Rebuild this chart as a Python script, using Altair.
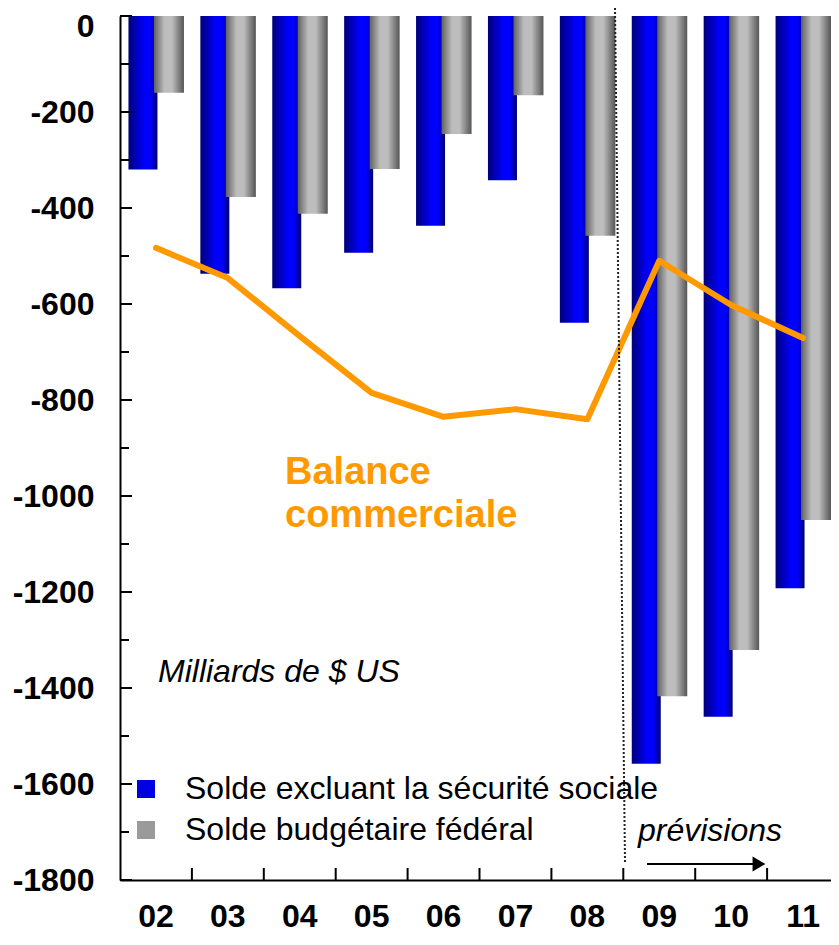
import altair as alt
import pandas as pd

# ---- data ----
years = ["02", "03", "04", "05", "06", "07", "08", "09", "10", "11"]
solde_hors_secu = [-320, -537, -567, -493, -437, -342, -639, -1558, -1460, -1192]
solde_federal = [-160, -377, -412, -319, -246, -165, -458, -1417, -1321, -1050]
balance_commerciale = [-483, -546, -667, -785, -835, -819, -840, -510, -602, -671]
series_labels = ["Solde excluant la sécurité sociale", "Solde budgétaire fédéral"]
y_major_ticks = [0, -200, -400, -600, -800, -1000, -1200, -1400, -1600, -1800]
y_minor_ticks = [-100, -300, -500, -700, -900, -1100, -1300, -1500, -1700]
txt_balance = ["Balance", "commerciale"]
txt_unit = "Milliards de $ US"
txt_prev = "prévisions"

FONT = "Liberation Sans"
ORANGE = "#FF9900"

df_blue = pd.DataFrame({"year": years, "v": solde_hors_secu, "serie": series_labels[0]})
df_grey = pd.DataFrame({"year": years, "v": solde_federal, "serie": series_labels[1]})
df_both = pd.concat([df_blue, df_grey])
df_line = pd.DataFrame({"year": years, "v": balance_commerciale})
one = pd.DataFrame({"k": [0]})

xscale = alt.Scale(domain=years, range=[0, 719], paddingInner=0, paddingOuter=0)
yscale = alt.Scale(domain=[-1800, 0], nice=False, zero=False)

blue_grad = alt.LinearGradient(
    gradient="linear", x1=0, x2=1, y1=0, y2=0,
    stops=[alt.GradientStop(color="#00007A", offset=0),
           alt.GradientStop(color="#0000FF", offset=0.55),
           alt.GradientStop(color="#0000FF", offset=0.75),
           alt.GradientStop(color="#000070", offset=1)])
grey_grad = alt.LinearGradient(
    gradient="linear", x1=0, x2=1, y1=0, y2=0,
    stops=[alt.GradientStop(color="#606060", offset=0),
           alt.GradientStop(color="#BDBDBD", offset=0.35),
           alt.GradientStop(color="#BDBDBD", offset=0.6),
           alt.GradientStop(color="#555555", offset=1)])

x_axis = alt.Axis(labelFont=FONT, labelFontSize=32, labelFontWeight="bold", labelColor="black",
                  ticks=False, labelPadding=21, domainColor="black", domainWidth=2,
                  labelAngle=0, grid=False, title=None)
y_axis = alt.Axis(values=y_major_ticks, labelExpr="toString(datum.value)", labelFont=FONT,
                  labelFontSize=32, labelFontWeight="bold", labelColor="black", ticks=False,
                  labelPadding=26, domainColor="black", domainWidth=2, grid=False, title=None,
                  labelOffset={"condition": {"test": "datum.value == 0", "value": 10}, "value": 0})

X = alt.X("year:N", scale=xscale, axis=x_axis, title=None)
Y = alt.Y("v:Q", scale=yscale, axis=y_axis, title=None)

blue = alt.Chart(df_blue).mark_bar(width=29, xOffset=-13, color=blue_grad).encode(x=X, y=Y)
grey = alt.Chart(df_grey).mark_bar(width=30, xOffset=13, color=grey_grad).encode(x=X, y=Y)
legend_layer = alt.Chart(df_both).mark_point(filled=True, opacity=0, shape="square").encode(
    x=X, y=Y,
    color=alt.Color("serie:N",
                    scale=alt.Scale(domain=series_labels, range=["#0000E0", "#9A9A9A"]),
                    legend=alt.Legend(orient="none", legendX=-2, legendY=745, title=None,
                                      symbolType="square", symbolSize=324, symbolOpacity=1,
                                      symbolStrokeWidth=0, labelFont=FONT, labelFontSize=32,
                                      labelColor="black", labelOffset=23, labelLimit=700,
                                      rowPadding=9, padding=12)),
)
line = alt.Chart(df_line).mark_line(color=ORANGE, strokeWidth=6, strokeCap="round",
                                    strokeJoin="round").encode(x=X, y=Y)

ytick_major = alt.Chart(pd.DataFrame({"v": y_major_ticks})).mark_rule(color="black", strokeWidth=2).encode(
    y=Y, x=alt.value(0), x2=alt.value(12))
ytick_minor = alt.Chart(pd.DataFrame({"v": y_minor_ticks})).mark_rule(color="black", strokeWidth=2).encode(
    y=Y, x=alt.value(0), x2=alt.value(9))
xtick = alt.Chart(pd.DataFrame({"year": years[1:]})).mark_rule(color="black", strokeWidth=2).encode(
    x=alt.X("year:N", scale=xscale, axis=x_axis, title=None, bandPosition=0),
    y=alt.value(864), y2=alt.value(852))

dotted = alt.Chart(one).mark_rule(color="#222222", strokeWidth=2, strokeDash=[2, 2]).encode(
    x=alt.value(495), x2=alt.value(505), y=alt.value(-8), y2=alt.value(846))
arrow_shaft = alt.Chart(one).mark_rule(color="black", strokeWidth=2).encode(
    x=alt.value(527), x2=alt.value(634), y=alt.value(848))
arrow_head = alt.Chart(one).mark_point(shape="triangle-right", filled=True, color="black",
                                       size=220, opacity=1).encode(
    x=alt.value(639), y=alt.value(848))

t_balance = alt.Chart(one).mark_text(text=txt_balance, align="left", baseline="alphabetic",
                                     font=FONT, fontSize=38, fontWeight="bold", color=ORANGE,
                                     lineHeight=43).encode(x=alt.value(165), y=alt.value(468))
t_unit = alt.Chart(one).mark_text(text=txt_unit, align="left", baseline="alphabetic",
                                  font=FONT, fontSize=32, fontStyle="italic",
                                  color="black").encode(x=alt.value(38), y=alt.value(666))
t_prev = alt.Chart(one).mark_text(text=txt_prev, align="left", baseline="alphabetic",
                                  font=FONT, fontSize=32, fontStyle="italic",
                                  color="black").encode(x=alt.value(518), y=alt.value(825))

chart = alt.layer(
    blue, grey, legend_layer, line, ytick_major, ytick_minor, xtick, dotted,
    arrow_shaft, arrow_head, t_balance, t_unit, t_prev
).properties(
    width=711, height=864,
    autosize=alt.AutoSizeParams(type="none"),
    padding={"left": 112, "top": 8, "right": 0, "bottom": 54},
).configure_view(stroke=None)

chart.save("out.html", embed_options={"renderer": "svg", "actions": False})
